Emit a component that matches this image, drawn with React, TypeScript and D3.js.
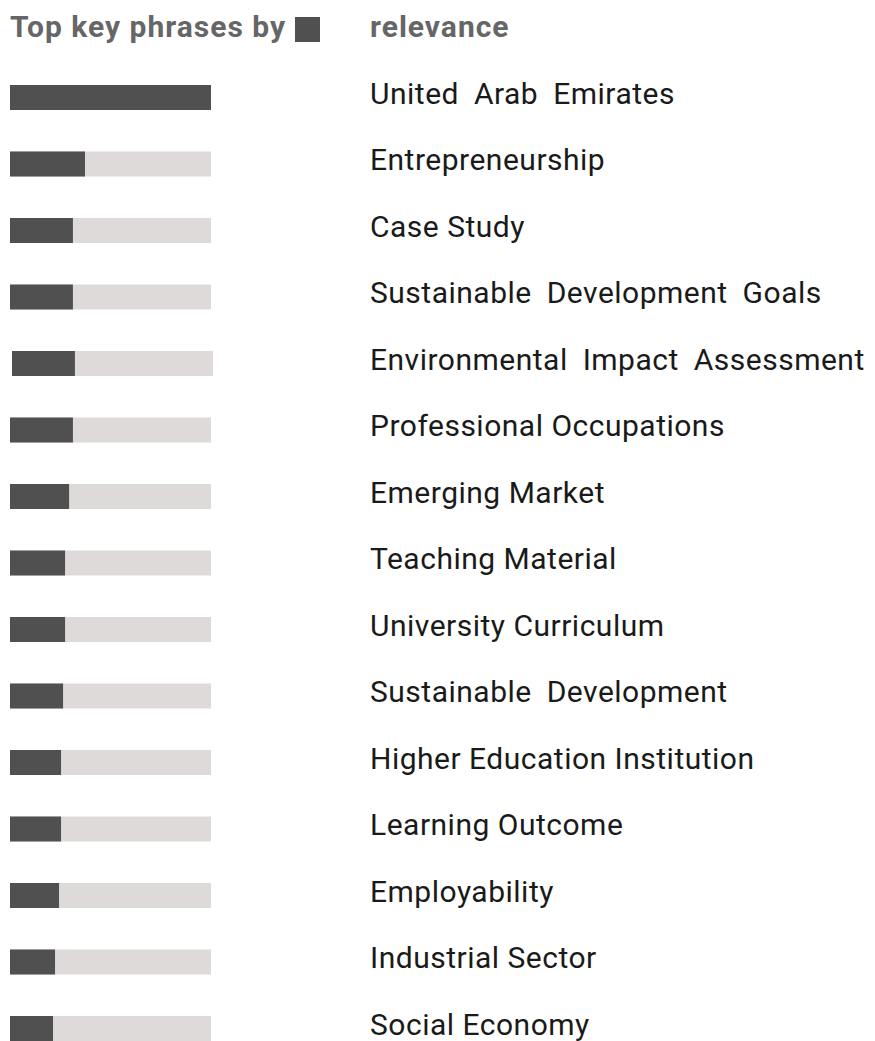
import React from "react";
import * as d3 from "d3";

const phrases: string[] = [
  "United Arab Emirates",
  "Entrepreneurship",
  "Case Study",
  "Sustainable Development Goals",
  "Environmental Impact Assessment",
  "Professional Occupations",
  "Emerging Market",
  "Teaching Material",
  "University Curriculum",
  "Sustainable Development",
  "Higher Education Institution",
  "Learning Outcome",
  "Employability",
  "Industrial Sector",
  "Social Economy",
];

const relevance: number[] = [100, 37.3, 31.3, 31.3, 31.3, 31.3, 29.4, 27.4, 27.4, 26.4, 25.4, 25.4, 24.4, 22.4, 21.4];

// labels rendered with visibly wider gaps between words in the reference
const wideSpaced: string[] = [
  "United Arab Emirates",
  "Sustainable Development Goals",
  "Environmental Impact Assessment",
  "Sustainable Development",
];

const titleLeft = "Top key phrases by";
const titleRight = "relevance";

export default function App() {
  const W = 875;
  const H = 1041;
  const y = d3.scalePoint<string>().domain(phrases).range([97.5, 1028.5]);
  const x = d3.scaleLinear().domain([0, 100]).range([10, 211]);
  const barH = 25;
  return (
    <svg
      width={W}
      height={H}
      style={{ position: "absolute", left: 0, top: 0, background: "#fff" }}
      fontFamily="Roboto, 'Noto Sans', sans-serif"
    >
      <text x={10} y={36.5} fontSize={30} fontWeight="bold" fill="#666" letterSpacing={1}>
        {titleLeft}
      </text>
      <rect x={295} y={17} width={25} height={25} fill="#505050" />
      <text x={370} y={36.5} fontSize={30} fontWeight="bold" fill="#666" letterSpacing={1}>
        {titleRight}
      </text>
      {phrases.map((p, i) => {
        const cy = y(p) as number;
        const dx = i === 4 ? 2 : 0;
        return (
          <g key={p} transform={`translate(${dx},0)`}>
            <rect x={x(0)} y={cy - barH / 2} width={x(100) - x(0)} height={barH} fill="#dedad9" />
            <rect x={x(0)} y={cy - barH / 2} width={x(relevance[i]) - x(0)} height={barH} fill="#505050" />
          </g>
        );
      })}
      {phrases.map((p) => {
        const cy = y(p) as number;
        return (
          <text
            key={"t" + p}
            x={370}
            y={cy + 6}
            fontSize={30}
            fill="#1a1a1a"
            letterSpacing={0.5}
            wordSpacing={wideSpaced.includes(p) ? 7 : 0}
          >
            {p}
          </text>
        );
      })}
    </svg>
  );
}
